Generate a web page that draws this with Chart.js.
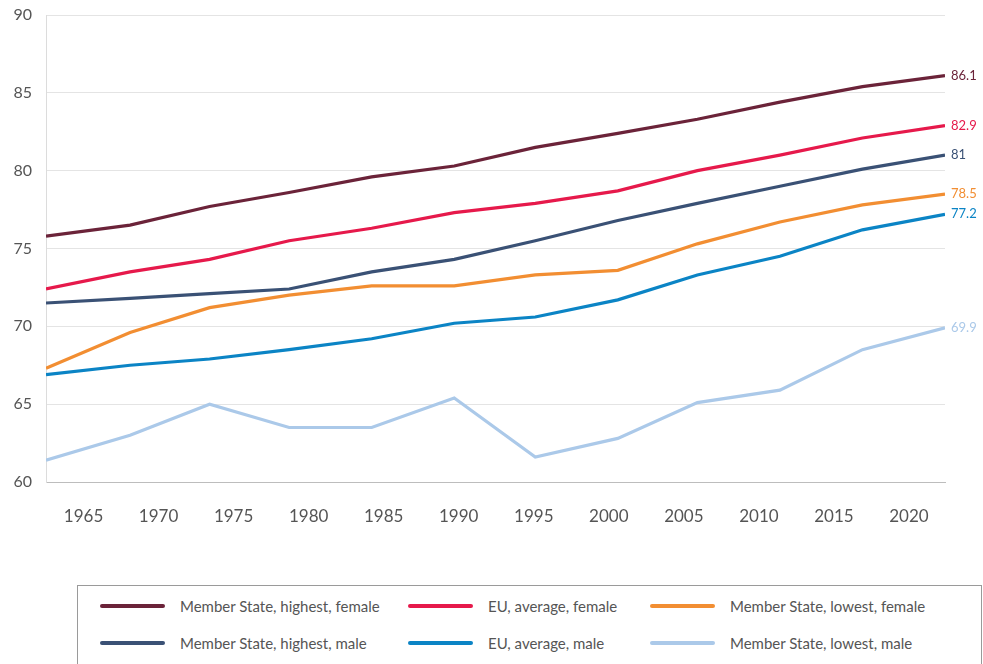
<!DOCTYPE html>
<html>
<head>
<meta charset="utf-8">
<script src="https://cdn.jsdelivr.net/npm/chart.js@4/dist/chart.umd.min.js"></script>
<style>
    body { margin: 0; background: #fff; font-family: Lato, sans-serif; }
    #wrap { position: relative; width: 983px; height: 664px; overflow: hidden; }
    #box { position: absolute; left: 0; top: 0; width: 983px; height: 560px; }
    #legend {
        position: absolute; left: 77px; top: 585px; width: 881px; height: 100px;
        border: 1px solid #9a9a9a; padding: 10px 0 0 22px;
        display: grid; grid-template-columns: 308px 242px 1fr;
        grid-auto-rows: 20px; align-content: start; row-gap: 17px;
    }
    .item { display: flex; align-items: center; font-size: 15px; color: #555; white-space: nowrap; }
    .item span.sw { display: inline-block; width: 65px; height: 4px; border-radius: 2px; margin-right: 15px; }
</style>
</head>
<body>
<div id="wrap">
    <div id="box"><canvas id="line-chart"></canvas></div>
    <div id="legend"></div>
</div>
<script>
    // x positions of the points (years), tick labels
    var years = [1962.5, 1968.1, 1973.4, 1978.7, 1984.2, 1989.7, 1995.1, 2000.6, 2005.9, 2011.4, 2016.9, 2022.4];
    var tickYears = [1965, 1970, 1975, 1980, 1985, 1990, 1995, 2000, 2005, 2010, 2015, 2020];

    var highFemale = [75.8, 76.5, 77.7, 78.6, 79.6, 80.3, 81.5, 82.4, 83.3, 84.4, 85.4, 86.1];
    var avgFemale  = [72.4, 73.5, 74.3, 75.5, 76.3, 77.3, 77.9, 78.7, 80.0, 81.0, 82.1, 82.9];
    var lowFemale  = [67.3, 69.6, 71.2, 72.0, 72.6, 72.6, 73.3, 73.6, 75.3, 76.7, 77.8, 78.5];
    var highMale   = [71.5, 71.8, 72.1, 72.4, 73.5, 74.3, 75.5, 76.8, 77.9, 79.0, 80.1, 81];
    var avgMale    = [66.9, 67.5, 67.9, 68.5, 69.2, 70.2, 70.6, 71.7, 73.3, 74.5, 76.2, 77.2];
    var lowMale    = [61.4, 63.0, 65.0, 63.5, 63.5, 65.4, 61.6, 62.8, 65.1, 65.9, 68.5, 69.9];

    function pts(vals) {
        return vals.map(function (v, i) { return {x: years[i], y: v}; });
    }

    function ds(label, vals, color) {
        return {
            label: label,
            data: pts(vals),
            borderColor: color,
            backgroundColor: color,
            borderWidth: 3.2,
            pointRadius: 0,
            tension: 0,
            fill: false
        };
    }

    var datasets = [
        ds("Member State, highest, female", highFemale, "#6b2339"),
        ds("EU, average, female", avgFemale, "#e6194b"),
        ds("Member State, lowest, female", lowFemale, "#f28e32"),
        ds("Member State, highest, male", highMale, "#3a5175"),
        ds("EU, average, male", avgMale, "#0b84c5"),
        ds("Member State, lowest, male", lowMale, "#abc9e9")
    ];

    // value labels at the end of each line
    var endLabels = {
        id: 'endLabels',
        afterDatasetsDraw: function (chart) {
            var ctx = chart.ctx;
            ctx.save();
            ctx.font = '13px Lato';
            ctx.textBaseline = 'middle';
            ctx.textAlign = 'left';
            chart.data.datasets.forEach(function (d, i) {
                var meta = chart.getDatasetMeta(i);
                var last = meta.data[meta.data.length - 1];
                ctx.fillStyle = d.borderColor;
                ctx.fillText(String(d.data[d.data.length - 1].y), last.x + 6, last.y);
            });
            ctx.restore();
        }
    };

    var myLine = new Chart(document.getElementById('line-chart'), {
        type: 'line',
        data: {datasets: datasets},
        plugins: [endLabels],
        options: {
            responsive: true,
            maintainAspectRatio: false,
            animation: false,
            layout: {padding: {top: 15, right: 38, left: 0, bottom: 0}},
            plugins: {legend: {display: false}, tooltip: {enabled: false}},
            scales: {
                x: {
                    type: 'linear',
                    min: years[0],
                    max: years[years.length - 1],
                    afterBuildTicks: function (scale) {
                        scale.ticks = tickYears.map(function (y) { return {value: y}; });
                    },
                    afterFit: function (scale) { scale.height = 78; },
                    grid: {display: false},
                    border: {display: true, color: '#bdbdbd', width: 1},
                    ticks: {
                        padding: 16,
                        color: '#555',
                        font: {family: 'Lato', size: 17},
                        callback: function (v) { return String(v); }
                    }
                },
                y: {
                    min: 60,
                    max: 90,
                    afterFit: function (scale) {
                        scale.width = 46;
                        scale.paddingTop = 8;
                        scale.paddingBottom = 8;
                    },
                    grid: {color: '#e4e4e4', drawTicks: false, lineWidth: 1},
                    border: {display: true, color: '#dcdcdc'},
                    ticks: {
                        stepSize: 5,
                        padding: 14,
                        color: '#555',
                        font: {family: 'Lato', size: 16}
                    }
                }
            }
        }
    });

    // legend in three columns
    var legend = document.getElementById('legend');
    datasets.forEach(function (d) {
        var item = document.createElement('div');
        item.className = 'item';
        item.innerHTML = '<span class="sw" style="background:' + d.borderColor + '"></span>' + d.label;
        legend.appendChild(item);
    });
</script>
</body>
</html>
